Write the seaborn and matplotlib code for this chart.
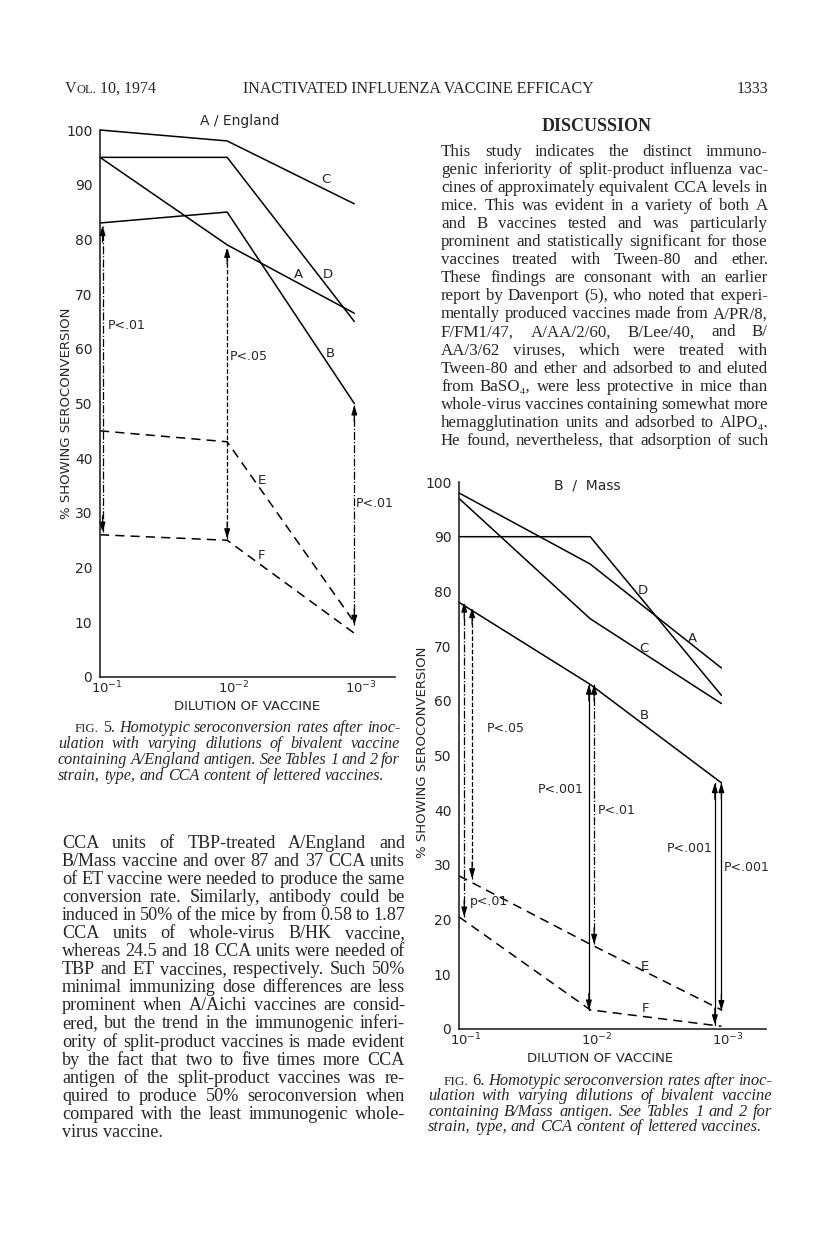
import matplotlib
matplotlib.use('Agg')
import numpy as np
import pandas as pd
import seaborn as sns
import matplotlib.transforms as mtransforms
from matplotlib import pyplot as plt

W, H = 816, 1249
SANS = ['DejaVu Sans']
SERIF = ['Liberation Serif', 'DejaVu Serif']

# ---- data ----
dilution_pos = [1, 2, 3]
dilution_labels = [r'$\mathregular{10^{-1}}$', r'$\mathregular{10^{-2}}$', r'$\mathregular{10^{-3}}$']
vaccines = ['A', 'B', 'C', 'D', 'E', 'F']
split_product = ['E', 'F']

england_A = [95, 79, 66.5]
england_B = [83, 85, 50]
england_C = [100, 98, 86.5]
england_D = [95, 95, 65]
england_E = [45, 43, 10]
england_F = [26, 25, 8]

mass_A = [98, 85, 66]
mass_B = [78, 63, 45]
mass_C = [97, 75, 59.5]
mass_D = [90, 90, 61]
mass_E = [28, 15.5, 3.5]
mass_F = [20.5, 3.5, 0.5]

# significance arrows: position, low end, high end, line style, label
england_arrow_x = [1.02, 2.0, 3.0]
england_arrow_lo = [26.5, 25.3, 9.5]
england_arrow_hi = [82.5, 78.5, 49.7]
england_arrow_ls = ['dashdot', 'dashed', 'dashdot']
england_p = ['P<.01', 'P<.05', 'P<.01']

mass_arrow_x = [1.04, 1.10, 1.99, 2.03, 2.95, 3.0]
mass_arrow_lo = [20.5, 27.5, 3.5, 15.5, 0.8, 3.4]
mass_arrow_hi = [78, 77, 63, 63, 45, 45]
mass_arrow_ls = ['dashdot', 'dashed', 'solid', 'dashdot', 'solid', 'solid']
mass_p = ['p<.01', 'P<.05', 'P<.001', 'P<.01', 'P<.001', 'P<.001']

header_mid = 'INACTIVATED INFLUENZA VACCINE EFFICACY'
header_page = '1333'

discussion_lines = [
    'This study indicates the distinct immuno-',
    'genic inferiority of split-product influenza vac-',
    'cines of approximately equivalent CCA levels in',
    'mice. This was evident in a variety of both A',
    'and B vaccines tested and was particularly',
    'prominent and statistically significant for those',
    'vaccines treated with Tween-80 and ether.',
    'These findings are consonant with an earlier',
    'report by Davenport (5), who noted that experi-',
    'mentally produced vaccines made from A/PR/8,',
    'F/FM1/47, A/AA/2/60, B/Lee/40, and B/',
    'AA/3/62 viruses, which were treated with',
    'Tween-80 and ether and adsorbed to and eluted',
    'from BaSO\u2084, were less protective in mice than',
    'whole-virus vaccines containing somewhat more',
    'hemagglutination units and adsorbed to AlPO\u2084.',
    'He found, nevertheless, that adsorption of such',
]

left_lines = [
    'CCA units of TBP-treated A/England and',
    'B/Mass vaccine and over 87 and 37 CCA units',
    'of ET vaccine were needed to produce the same',
    'conversion rate. Similarly, antibody could be',
    'induced in 50% of the mice by from 0.58 to 1.87',
    'CCA units of whole-virus B/HK vaccine,',
    'whereas 24.5 and 18 CCA units were needed of',
    'TBP and ET vaccines, respectively. Such 50%',
    'minimal immunizing dose differences are less',
    'prominent when A/Aichi vaccines are consid-',
    'ered, but the trend in the immunogenic inferi-',
    'ority of split-product vaccines is made evident',
    'by the fact that two to five times more CCA',
    'antigen of the split-product vaccines was re-',
    'quired to produce 50% seroconversion when',
    'compared with the least immunogenic whole-',
    'virus vaccine.',
]

caption5 = [
    'FIG. 5. Homotypic seroconversion rates after inoc-',
    'ulation with varying dilutions of bivalent vaccine',
    'containing A/England antigen. See Tables 1 and 2 for',
    'strain, type, and CCA content of lettered vaccines.',
]
caption6 = [
    'FIG. 6. Homotypic seroconversion rates after inoc-',
    'ulation with varying dilutions of bivalent vaccine',
    'containing B/Mass antigen. See Tables 1 and 2 for',
    'strain, type, and CCA content of lettered vaccines.',
]


def long_frame(series):
    rows = []
    for name, values in zip(vaccines, series):
        for pos, val in zip(dilution_pos, values):
            rows.append({'vaccine': name, 'dilution': pos, 'pct': val})
    return pd.DataFrame(rows)


sns.set_style('white')
plt.rcParams['font.family'] = SANS
plt.rcParams['mathtext.fontset'] = 'dejavusans'

fig = plt.figure(figsize=(W / 100, H / 100), dpi=100, facecolor='white')
renderer = fig.canvas.get_renderer()


def px_axes(x0, y0, x1, y1):
    return fig.add_axes([x0 / W, 1 - y1 / H, (x1 - x0) / W, (y1 - y0) / H])


def p_arrow(ax, x, lo, hi, ls):
    ax.plot([x, x], [lo, hi], color='black', lw=0.9, linestyle=ls, clip_on=False)
    head = dict(arrowstyle='-|>,head_length=0.55,head_width=0.17', color='black',
                lw=0.9, shrinkA=0, shrinkB=0)
    ax.annotate('', xy=(x, lo), xytext=(x, lo + 3), arrowprops=head, annotation_clip=False)
    ax.annotate('', xy=(x, hi), xytext=(x, hi - 3), arrowprops=head, annotation_clip=False)


def draw_panel(ax, df, xmax, title, title_xy):
    dashes = {v: ((6, 4) if v in split_product else '') for v in vaccines}
    sns.lineplot(data=df, x='dilution', y='pct', hue='vaccine', style='vaccine',
                 palette={v: 'black' for v in vaccines}, dashes=dashes,
                 linewidth=1.1, legend=False, ax=ax)
    for line in ax.get_lines():
        line.set_clip_on(False)
    ax.set_xlim(1, xmax)
    ax.set_ylim(0, 100)
    ax.set_xticks(dilution_pos)
    ax.set_xticklabels(dilution_labels)
    ax.set_yticks(range(0, 101, 10))
    ax.set_xlabel('')
    ax.set_ylabel('')
    ax.patch.set_alpha(0)
    sns.despine(ax=ax)
    for s in ('left', 'bottom'):
        ax.spines[s].set_linewidth(1.2)
    ax.tick_params(axis='y', direction='inout', length=9, width=1, labelsize=10, pad=1)
    ax.tick_params(axis='x', direction='in', length=6, width=1, labelsize=9.5, pad=2)
    # the printed exponent labels sit a little right of their ticks
    shift = mtransforms.ScaledTranslation(0.07, 0, fig.dpi_scale_trans)
    for lab in ax.get_xticklabels():
        lab.set_transform(lab.get_transform() + shift)
    ax.text(title_xy[0], title_xy[1], title, fontsize=10, ha='center', va='center')


# ---- Fig. 5 : A/England ----
ax5 = px_axes(100, 130, 395, 677)
draw_panel(ax5, long_frame([england_A, england_B, england_C, england_D, england_E, england_F]),
           3.32, 'A / England', (2.10, 101.6))
for x, lo, hi, ls in zip(england_arrow_x, england_arrow_lo, england_arrow_hi, england_arrow_ls):
    p_arrow(ax5, x, lo, hi, ls)
for txt, (tx, ty) in zip(england_p, [(1.06, 64.3), (2.02, 58.6), (3.01, 31.8)]):
    ax5.text(tx, ty, txt, fontsize=9, ha='left', va='center')
for txt, (tx, ty) in zip(vaccines, [(2.56, 73.5), (2.81, 59.2), (2.78, 90.9),
                                    (2.79, 73.5), (2.27, 36.0), (2.27, 22.3)]):
    ax5.text(tx, ty, txt, fontsize=9.5, ha='center', va='center')
fig.text(66 / W, 1 - 413 / H, '% SHOWING SEROCONVERSION', rotation=90,
         fontsize=9.5, ha='center', va='center')
fig.text(247 / W, 1 - 706 / H, 'DILUTION OF VACCINE', fontsize=9.5, ha='center', va='center')

# ---- Fig. 6 : B/Mass ----
ax6 = px_axes(459, 482, 766, 1029)
draw_panel(ax6, long_frame([mass_A, mass_B, mass_C, mass_D, mass_E, mass_F]),
           3.34, 'B  /  Mass', (1.98, 99.4))
for x, lo, hi, ls in zip(mass_arrow_x, mass_arrow_lo, mass_arrow_hi, mass_arrow_ls):
    p_arrow(ax6, x, lo, hi, ls)
for txt, (tx, ty, ha) in zip(mass_p, [(1.085, 23.3, 'left'), (1.21, 55, 'left'),
                                      (1.95, 43.7, 'right'), (2.06, 40, 'left'),
                                      (2.93, 33, 'right'), (3.02, 29.5, 'left')]):
    ax6.text(tx, ty, txt, fontsize=9, ha=ha, va='center')
for txt, (tx, ty) in zip(vaccines, [(2.78, 71.3), (2.41, 57.4), (2.41, 69.6),
                                    (2.40, 80.2), (2.42, 11.5), (2.42, 3.7)]):
    ax6.text(tx, ty, txt, fontsize=9.5, ha='center', va='center')
fig.text(422 / W, 1 - 752 / H, '% SHOWING SEROCONVERSION', rotation=90,
         fontsize=9.5, ha='center', va='center')
fig.text(600 / W, 1 - 1058 / H, 'DILUTION OF VACCINE', fontsize=9.5, ha='center', va='center')


# ---- page text ----
def word_widths(words, size, italic, lead):
    out = []
    for j, w in enumerate(words):
        upright = j < lead
        t = fig.text(0, 0, w, fontsize=size * 0.8 if (upright and j == 0) else size,
                     family=SERIF, fontstyle='italic' if (italic and not upright) else 'normal',
                     ha='left', va='baseline')
        out.append((t, t.get_window_extent(renderer).width))
    return out


def justify_block(lines, x0, x1, y_first, step, italic=False, indent=0, lead=0, ragged_last=True):
    # pick the size at which the tightest line just fills the column
    ratios = []
    for i, line in enumerate(lines):
        if ragged_last and i == len(lines) - 1:
            continue
        words = line.split(' ')
        probe = word_widths(words, 10, italic, lead if i == 0 else 0)
        natural = sum(w for _, w in probe) + 2.6 * (len(words) - 1)
        ratios.append((x1 - x0 - (indent if i == 0 else 0)) / natural)
        for t, _ in probe:
            t.remove()
    size = 10 * min(ratios) * 0.995
    for i, line in enumerate(lines):
        words = line.split(' ')
        placed = word_widths(words, size, italic, lead if i == 0 else 0)
        left = x0 + (indent if i == 0 else 0)
        if ragged_last and i == len(lines) - 1:
            gap = 0.26 * size * 100 / 72
        else:
            gap = (x1 - left - sum(w for _, w in placed)) / (len(words) - 1)
        x = left
        y = y_first + i * step
        for t, w in placed:
            t.set_position((x / W, 1 - y / H))
            x += w + gap
    return size


def run_text(parts, x, y):
    for txt, size in parts:
        t = fig.text(x / W, 1 - y / H, txt, fontsize=size, family=SERIF, ha='left', va='baseline')
        x += t.get_window_extent(renderer).width


run_text([('V', 11.5), ('OL.', 9), (' 10, 1974', 11.5)], 65, 93)
fig.text(418 / W, 1 - 93 / H, header_mid, fontsize=11.5, family=SERIF, ha='center', va='baseline')
fig.text(768 / W, 1 - 93 / H, header_page, fontsize=11.5, family=SERIF, ha='right', va='baseline')
fig.text(597 / W, 1 - 131 / H, 'DISCUSSION', fontsize=13, family=SERIF, fontweight='bold',
         ha='center', va='baseline')

justify_block(discussion_lines, 441, 768, 156, 18.05, ragged_last=False)
justify_block(left_lines, 62, 405, 848, 18.05)
justify_block(caption5, 58, 400, 732, 16, italic=True, indent=17, lead=2)
justify_block(caption6, 428, 772, 1085, 15.3, italic=True, indent=16, lead=2)

plt.savefig('out.png', dpi=100, facecolor='white')
